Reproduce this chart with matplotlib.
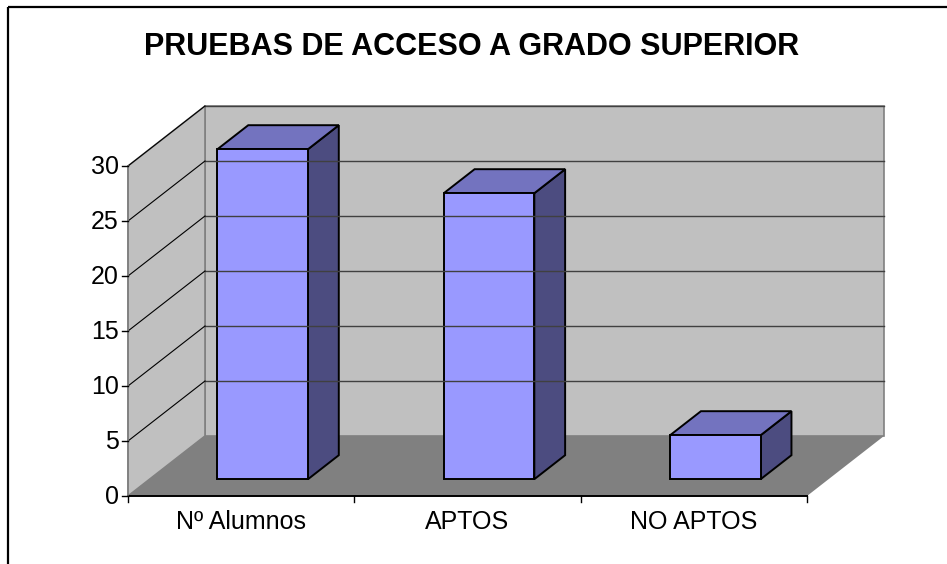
import matplotlib
matplotlib.use('Agg')
import matplotlib.pyplot as plt
from matplotlib.patches import Polygon, Rectangle
import numpy as np

categorias = ['Nº Alumnos', 'APTOS', 'NO APTOS']
valores = [30, 26, 4]
yticks = [0, 5, 10, 15, 20, 25, 30]
titulo = 'PRUEBAS DE ACCESO A GRADO SUPERIOR'

plt.rcParams['font.family'] = ['Liberation Sans', 'DejaVu Sans']

# geometria de la proyeccion oblicua (pixeles)
x0, y0 = 128.0, 496.0
ancho_cat = 679.0 / 3
esc_y = 11.0
dx, dy = 77.0, -60.0
vmax = 30


def P(xc, v, d):
    return (x0 + xc * ancho_cat + d * dx, y0 - v * esc_y + d * dy)


fig = plt.figure(figsize=(9.47, 5.64), dpi=100)
ax = fig.add_axes([0, 0, 1, 1])
ax.set_xlim(0, 947)
ax.set_ylim(564, 0)
ax.axis('off')

# marco exterior (sigue fuera de la imagen por la derecha y abajo)
ax.add_patch(Rectangle((8, 6.5), 960, 580, fill=False, ec='black', lw=1.6))

ax.text(472, 47, titulo, ha='center', va='center', fontsize=22, fontweight='bold')

ncat = len(categorias)
pared = '#C0C0C0'
suelo = '#808080'

# pared trasera
ax.add_patch(Polygon([P(0, 0, 1), P(ncat, 0, 1), P(ncat, vmax, 1), P(0, vmax, 1)],
                     closed=True, fc=pared, ec='#808080', lw=1.2))
# pared lateral
ax.add_patch(Polygon([P(0, 0, 0), P(0, 0, 1), P(0, vmax, 1), P(0, vmax, 0)],
                     closed=True, fc=pared, ec='#808080', lw=1.2))
# suelo
ax.add_patch(Polygon([P(0, 0, 0), P(ncat, 0, 0), P(ncat, 0, 1), P(0, 0, 1)],
                     closed=True, fc=suelo, ec='none'))

# lineas de division
for t in yticks[1:]:
    a, b = P(0, t, 1), P(ncat, t, 1)
    ax.plot([a[0], b[0]], [a[1], b[1]], color='#404040', lw=1.0)
    a, b = P(0, t, 0), P(0, t, 1)
    ax.plot([a[0], b[0]], [a[1], b[1]], color='black', lw=0.8)

# barras
d0, d1 = 0.28, 0.68
w = 0.40
frente = '#9999FF'
tapa = '#7373BF'
lado = '#4C4C80'
for i, v in enumerate(valores):
    xa, xb = i + 0.5 - w / 2, i + 0.5 + w / 2
    ax.add_patch(Polygon([P(xb, 0, d0), P(xb, 0, d1), P(xb, v, d1), P(xb, v, d0)],
                         closed=True, fc=lado, ec='black', lw=1.4, joinstyle='miter'))
    ax.add_patch(Polygon([P(xa, v, d0), P(xb, v, d0), P(xb, v, d1), P(xa, v, d1)],
                         closed=True, fc=tapa, ec='black', lw=1.4, joinstyle='miter'))
    ax.add_patch(Polygon([P(xa, 0, d0), P(xb, 0, d0), P(xb, v, d0), P(xa, v, d0)],
                         closed=True, fc=frente, ec='black', lw=1.4, joinstyle='miter'))

# ejes
a, b = P(0, 0, 0), P(ncat, 0, 0)
ax.plot([a[0], b[0]], [a[1], b[1]], color='black', lw=1.4)
a, b = P(0, 0, 0), P(0, vmax, 0)
ax.plot([a[0], b[0]], [a[1], b[1]], color='#808080', lw=1.2)
for t in yticks:
    px, py = P(0, t, 0)
    ax.plot([px - 6, px], [py, py], color='black', lw=1.0)
    ax.text(px - 9, py + 1, str(t), ha='right', va='center', fontsize=18)
for i in range(ncat + 1):
    px, py = P(i, 0, 0)
    ax.plot([px, px], [py, py + 6], color='black', lw=1.0)
for i, c in enumerate(categorias):
    px, py = P(i + 0.5, 0, 0)
    ax.text(px, py + 26, c, ha='center', va='center', fontsize=18)

fig.savefig('out.png', dpi=100)
